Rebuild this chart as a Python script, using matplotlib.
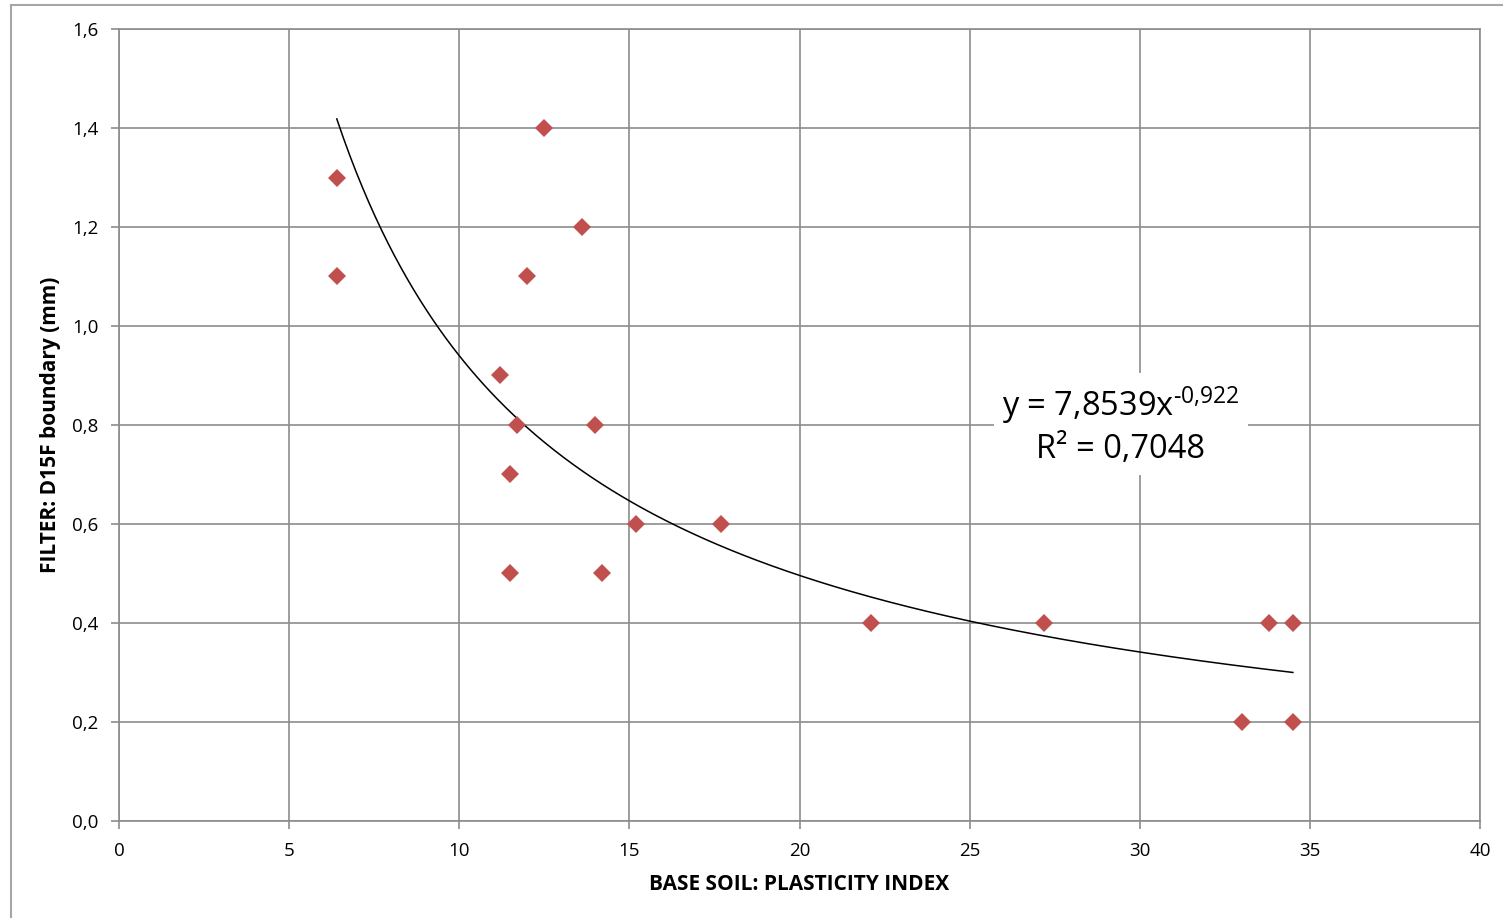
#!/usr/bin/env python

from matplotlib import pyplot as plt
from matplotlib.lines import Line2D
import numpy as np

# base soil plasticity index vs filter D15F boundary
pi_values = [6.4, 6.4, 12.5, 13.6, 12.0, 11.2, 11.7, 14.0, 11.5, 15.2, 17.7,
             11.5, 14.2, 22.1, 27.2, 33.8, 34.5, 33.0, 34.5]
d15f_values = [1.3, 1.1, 1.4, 1.2, 1.1, 0.9, 0.8, 0.8, 0.7, 0.6, 0.6,
               0.5, 0.5, 0.4, 0.4, 0.4, 0.4, 0.2, 0.2]

# power trend line y = a * x^b (Excel fit)
fit_a = 7.8539
fit_b = -0.922
fit_r2 = 0.7048

plt.rcParams['font.family'] = ['Open Sans', 'DejaVu Sans']
plt.rcParams['mathtext.fontset'] = 'custom'
plt.rcParams['mathtext.rm'] = 'Open Sans'
plt.rcParams['mathtext.it'] = 'Open Sans'
plt.rcParams['mathtext.bf'] = 'Open Sans:bold'

fig = plt.figure(figsize=(15.03, 9.18), dpi=100)
ax = fig.add_axes([0.0792, 0.1057, 0.9055, 0.8627])

grid_col = '#8c8c8c'

xs = np.linspace(min(pi_values), max(pi_values), 300)
ax.plot(xs, fit_a * xs ** fit_b, color='black', lw=1.1, zorder=3)
ax.plot(pi_values, d15f_values, 'D', color='#C0504D', markersize=9.5,
        markeredgewidth=0, zorder=4)

ax.set_xlim(0, 40)
ax.set_ylim(0, 1.6)
ax.set_xticks(range(0, 41, 5))
ax.set_yticks(np.arange(0, 1.61, 0.2))
ax.yaxis.set_major_formatter(plt.FuncFormatter(lambda v, p: f'{v:.1f}'.replace('.', ',')))
ax.grid(True, color=grid_col, lw=1.2)
ax.set_axisbelow(True)
for s in ax.spines.values():
    s.set_color(grid_col)
    s.set_linewidth(1.2)
ax.tick_params(colors=grid_col, labelcolor='black', labelsize=13.5, length=6,
               width=1.2, pad=9)

ax.set_xlabel('BASE SOIL: PLASTICITY INDEX', fontsize=15, fontweight='bold', labelpad=10)
ax.set_ylabel('FILTER: D15F boundary (mm)', fontsize=15, fontweight='bold', labelpad=8)

exp_txt = f'{fit_b}'.replace('-', '\u2010').replace('.', '{,}')
label = ('y = ' + f'{fit_a}'.replace('.', ',') + 'x$^{' + exp_txt + '}$\n'
         + 'R² = ' + f'{fit_r2}'.replace('.', ','))
ax.text(29.45, 0.80, label, fontsize=23.5, ha='center', va='center', zorder=5,
        linespacing=1.3,
        bbox=dict(facecolor='white', edgecolor='none', pad=6))

# outer chart frame
fig.add_artist(Line2D([0.0073, 0.0073], [0, 0.9946], color='#a6a6a6', lw=1.5,
                      transform=fig.transFigure))
fig.add_artist(Line2D([0.0073, 1], [0.9946, 0.9946], color='#a6a6a6', lw=1.5,
                      transform=fig.transFigure))

plt.savefig('out.png', dpi=100)
